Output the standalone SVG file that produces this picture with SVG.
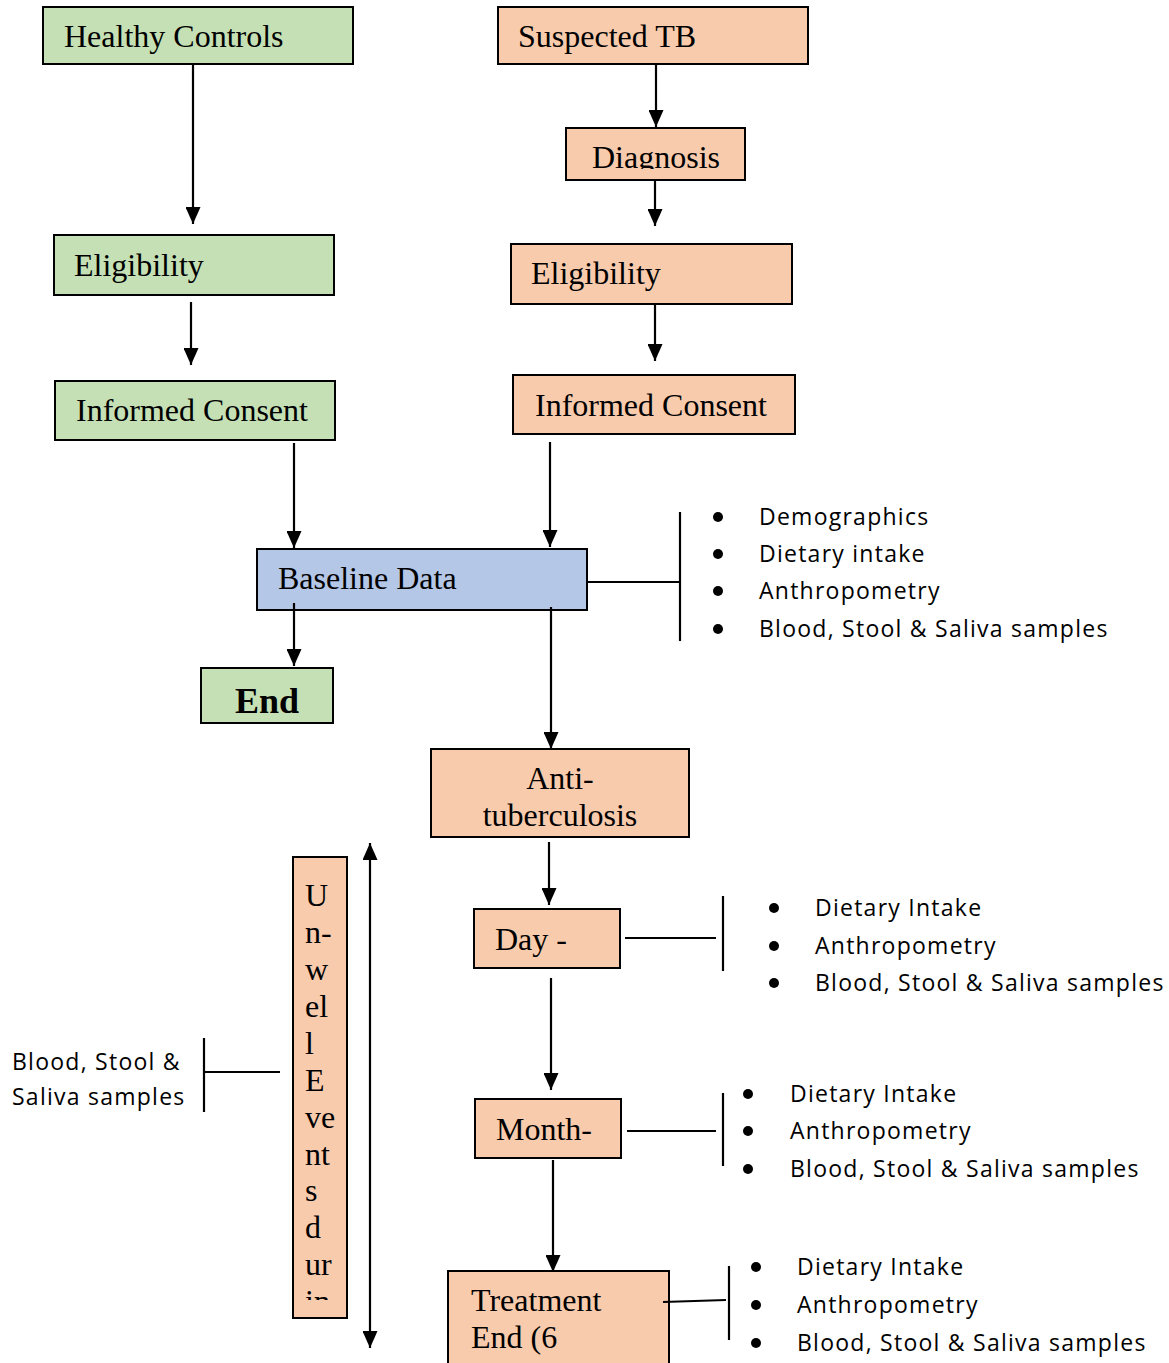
<svg xmlns="http://www.w3.org/2000/svg" width="1169" height="1363" viewBox="0 0 1169 1363">
<defs>
<style>
.box{stroke:#000;stroke-width:2}
.g{fill:#c5e0b4}.p{fill:#f8cbad}.b{fill:#b4c7e7}
.t{font-family:"Liberation Serif","Times New Roman",serif;font-size:32px;fill:#000}
.s{font-family:"Open Sans","Noto Sans",sans-serif;font-size:23px;letter-spacing:1.25px;fill:#000}
.ln{stroke:#000;stroke-width:2.2;fill:none}
.ar{stroke:#000;stroke-width:2.2;fill:none;marker-end:url(#ah)}
.bul{fill:#000}
</style>
<marker id="ah" markerUnits="userSpaceOnUse" markerWidth="17" markerHeight="15" refX="17" refY="7.5" orient="auto-start-reverse">
<path d="M0,0 L17,7.5 L0,15 z" fill="#000"/>
</marker>
<clipPath id="cDiag"><rect x="566" y="128" width="179" height="41"/></clipPath>
<clipPath id="cUnwell"><rect x="293" y="855" width="54" height="445"/></clipPath>
</defs>
<rect width="1169" height="1363" fill="#fff"/>

<g id="healthy-controls"><rect class="box g" x="43" y="7" width="310" height="57"/><text class="t" x="64" y="47">Healthy Controls</text></g>
<g id="suspected-tb"><rect class="box p" x="498" y="7" width="310" height="57"/><text class="t" x="518" y="47">Suspected TB</text></g>
<g id="eligibility-hc"><rect class="box g" x="54" y="235" width="280" height="60"/><text class="t" x="74" y="276">Eligibility</text></g>
<g id="consent-hc"><rect class="box g" x="55" y="381" width="280" height="59"/><text class="t" x="76" y="421">Informed Consent</text></g>
<g id="diagnosis"><rect class="box p" x="566" y="128" width="179" height="52"/><text class="t" x="592" y="168" clip-path="url(#cDiag)">Diagnosis</text></g>
<g id="eligibility-tb"><rect class="box p" x="511" y="244" width="281" height="60"/><text class="t" x="531" y="284">Eligibility</text></g>
<g id="consent-tb"><rect class="box p" x="513" y="375" width="282" height="59"/><text class="t" x="535" y="416">Informed Consent</text></g>
<g id="baseline"><rect class="box b" x="257" y="549" width="330" height="61"/><text class="t" x="278" y="589">Baseline Data</text></g>
<g id="end"><rect class="box g" x="201" y="668" width="132" height="55"/><text class="t" x="235" y="713" style="font-weight:bold;font-size:36px">End</text></g>
<g id="anti-tb"><rect class="box p" x="431" y="749" width="258" height="88"/><text class="t" x="560" y="789" text-anchor="middle">Anti-</text><text class="t" x="560" y="826" text-anchor="middle">tuberculosis</text></g>
<g id="day"><rect class="box p" x="474" y="909" width="146" height="59"/><text class="t" x="495" y="950">Day -</text></g>
<g id="month"><rect class="box p" x="475" y="1099" width="146" height="59"/><text class="t" x="496" y="1140">Month-</text></g>
<g id="treatment-end"><rect class="box p" x="448" y="1271" width="221" height="100"/><text class="t" x="471" y="1311">Treatment</text><text class="t" x="471" y="1348">End (6</text></g>
<g id="unwell"><rect class="box p" x="293" y="857" width="54" height="461"/>
<g class="t" clip-path="url(#cUnwell)">
<text x="305" y="906">U</text><text x="305" y="943">n-</text><text x="305" y="980">w</text><text x="305" y="1017">el</text><text x="305" y="1054">l</text><text x="305" y="1091">E</text><text x="305" y="1128">ve</text><text x="305" y="1165">nt</text><text x="305" y="1201">s</text><text x="305" y="1238">d</text><text x="305" y="1275">ur</text><text x="305" y="1312">in</text>
</g></g>

<g id="baseline-list">
<circle class="bul" cx="718" cy="517" r="5"/><text class="s" x="759" y="525">Demographics</text>
<circle class="bul" cx="718" cy="554" r="5"/><text class="s" x="759" y="562">Dietary intake</text>
<circle class="bul" cx="718" cy="591" r="5"/><text class="s" x="759" y="599">Anthropometry</text>
<circle class="bul" cx="718" cy="629" r="5"/><text class="s" x="759" y="637">Blood, Stool &amp; Saliva samples</text>
</g>
<g id="day-list">
<circle class="bul" cx="774" cy="908" r="5"/><text class="s" x="815" y="916">Dietary Intake</text>
<circle class="bul" cx="774" cy="946" r="5"/><text class="s" x="815" y="954">Anthropometry</text>
<circle class="bul" cx="774" cy="983" r="5"/><text class="s" x="815" y="991">Blood, Stool &amp; Saliva samples</text>
</g>
<g id="month-list">
<circle class="bul" cx="748" cy="1094" r="5"/><text class="s" x="790" y="1102">Dietary Intake</text>
<circle class="bul" cx="748" cy="1131" r="5"/><text class="s" x="790" y="1139">Anthropometry</text>
<circle class="bul" cx="748" cy="1169" r="5"/><text class="s" x="790" y="1177">Blood, Stool &amp; Saliva samples</text>
</g>
<g id="treatment-list">
<circle class="bul" cx="756" cy="1267" r="5"/><text class="s" x="797" y="1275">Dietary Intake</text>
<circle class="bul" cx="756" cy="1305" r="5"/><text class="s" x="797" y="1313">Anthropometry</text>
<circle class="bul" cx="756" cy="1343" r="5"/><text class="s" x="797" y="1351">Blood, Stool &amp; Saliva samples</text>
</g>
<g id="unwell-samples">
<text class="s" x="12" y="1070">Blood, Stool &amp;</text>
<text class="s" x="12" y="1105">Saliva samples</text>
</g>

<g id="connectors">
<line class="ar" x1="193" y1="64" x2="193" y2="224"/>
<line class="ar" x1="191" y1="302" x2="191" y2="365"/>
<line class="ar" x1="294" y1="443" x2="294" y2="548"/>
<line class="ar" x1="656" y1="64" x2="656" y2="127"/>
<line class="ar" x1="655" y1="180" x2="655" y2="226"/>
<line class="ar" x1="655" y1="304" x2="655" y2="361"/>
<line class="ar" x1="550" y1="442" x2="550" y2="547"/>
<line class="ar" x1="294" y1="603" x2="294" y2="666"/>
<line class="ar" x1="551" y1="607" x2="551" y2="749"/>
<line class="ar" x1="549" y1="842" x2="549" y2="905"/>
<line class="ar" x1="551" y1="978" x2="551" y2="1090"/>
<line class="ar" x1="553" y1="1160" x2="553" y2="1272"/>
<line class="ar" x1="370" y1="843" x2="370" y2="1348" style="marker-start:url(#ah)"/>
<line class="ln" x1="587" y1="582" x2="680" y2="582"/>
<line class="ln" x1="680" y1="512" x2="680" y2="641"/>
<line class="ln" x1="625" y1="938" x2="716" y2="938"/>
<line class="ln" x1="723" y1="896" x2="723" y2="971"/>
<line class="ln" x1="627" y1="1131" x2="716" y2="1131"/>
<line class="ln" x1="723" y1="1093" x2="723" y2="1166"/>
<line class="ln" x1="663" y1="1302" x2="726" y2="1300"/>
<line class="ln" x1="729" y1="1266" x2="729" y2="1340"/>
<line class="ln" x1="204" y1="1038" x2="204" y2="1112"/>
<line class="ln" x1="204" y1="1072" x2="280" y2="1072"/>
</g>
</svg>
